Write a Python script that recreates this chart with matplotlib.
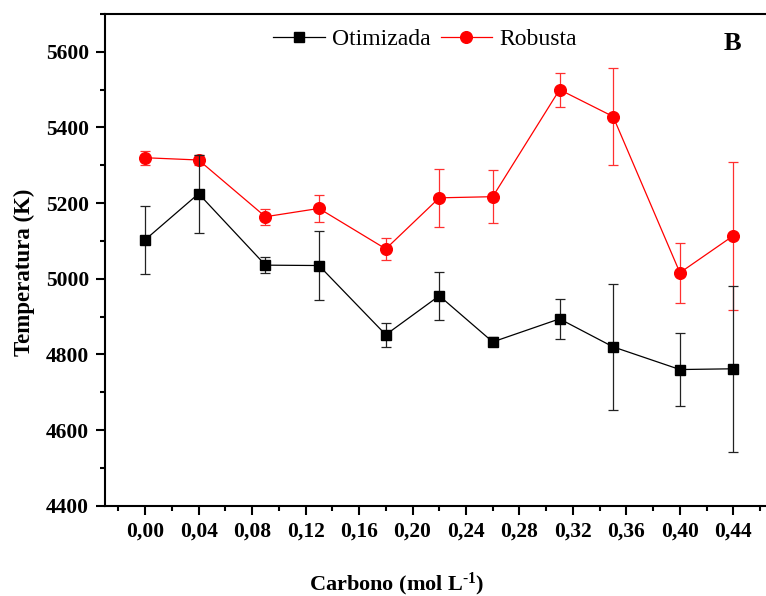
import matplotlib
matplotlib.use("Agg")
import matplotlib.pyplot as plt
from matplotlib.lines import Line2D
from matplotlib.ticker import MultipleLocator, FixedLocator

# Carbon concentration (mol/L)
carbono = [0.00, 0.04, 0.09, 0.13, 0.18, 0.22, 0.26, 0.31, 0.35, 0.40, 0.44]

# Temperature (K) and standard deviations
otimizada = [5103, 5225, 5036, 5035, 4852, 4955, 4833, 4894, 4820, 4760, 4762]
otimizada_err = [90, 103, 22, 92, 32, 63, 12, 52, 166, 97, 219]

robusta = [5320, 5314, 5164, 5186, 5079, 5214, 5217, 5500, 5429, 5016, 5114]
robusta_err = [19, 12, 21, 36, 29, 76, 70, 45, 128, 79, 196]

xticks = [0.00, 0.04, 0.08, 0.12, 0.16, 0.20, 0.24, 0.28, 0.32, 0.36, 0.40, 0.44]
xtick_labels = ["0,00", "0,04", "0,08", "0,12", "0,16", "0,20", "0,24",
                "0,28", "0,32", "0,36", "0,40", "0,44"]
yticks = [4400, 4600, 4800, 5000, 5200, 5400, 5600]

plt.rcParams["font.family"] = ["Liberation Serif", "DejaVu Serif"]
plt.rcParams["mathtext.fontset"] = "custom"
plt.rcParams["mathtext.rm"] = "Liberation Serif:bold"
plt.rcParams["mathtext.bf"] = "Liberation Serif:bold"
plt.rcParams["mathtext.default"] = "bf"

fig = plt.figure(figsize=(7.66, 5.96), dpi=100)
ax = fig.add_axes([0.1371, 0.1515, 0.8727, 0.8250])

ax.errorbar(carbono, robusta, yerr=robusta_err, color="#ff0000", lw=0.9,
            marker="o", ms=8.4, mec="#ff0000", mfc="#ff0000",
            elinewidth=0.9, ecolor="#ff3030", capsize=3.3, capthick=0.9,
            zorder=2)
ax.errorbar(carbono, otimizada, yerr=otimizada_err, color="black", lw=0.9,
            marker="s", ms=7.6, mec="black", mfc="black",
            elinewidth=0.9, ecolor="#222222", capsize=3.3, capthick=0.9,
            zorder=3)

ax.set_xlim(-0.03, 0.47)
ax.set_ylim(4400, 5700)

ax.xaxis.set_major_locator(FixedLocator(xticks))
ax.set_xticklabels(xtick_labels)
ax.xaxis.set_minor_locator(MultipleLocator(0.02))
ax.yaxis.set_major_locator(FixedLocator(yticks))
ax.yaxis.set_minor_locator(MultipleLocator(100))

for side in ["left", "bottom", "top", "right"]:
    ax.spines[side].set_linewidth(1.5)

ax.tick_params(axis="both", which="major", direction="out", length=6.5,
               width=1.5, pad=5, labelsize=15.5)
ax.tick_params(axis="both", which="minor", direction="out", length=3.6,
               width=1.5)
for lbl in ax.get_xticklabels() + ax.get_yticklabels():
    lbl.set_fontweight("bold")

ax.set_ylabel("Temperatura (K)", fontsize=16.5, fontweight="bold")
ax.yaxis.set_label_coords(-0.105, 0.475)
ax.set_xlabel(r"Carbono (mol L$^{\text{-1}}$)", fontsize=16, fontweight="bold",
              va="baseline")
ax.xaxis.set_label_coords(0.437, -0.171)

legend_handles = [
    Line2D([], [], color="black", lw=0.9, marker="s", ms=7.6),
    Line2D([], [], color="#ff0000", lw=0.9, marker="o", ms=8.4),
]
ax.legend(legend_handles, ["Otimizada", "Robusta"], loc="center",
          bbox_to_anchor=(0.479, 0.949), ncol=2, frameon=False,
          fontsize=17, handlelength=2.2, handletextpad=0.3,
          columnspacing=0.4, borderpad=0, borderaxespad=0)

ax.text(0.939, 0.941, "B", transform=ax.transAxes,
        fontsize=19, fontweight="bold", ha="center", va="center")

fig.savefig("out.png", dpi=100)
